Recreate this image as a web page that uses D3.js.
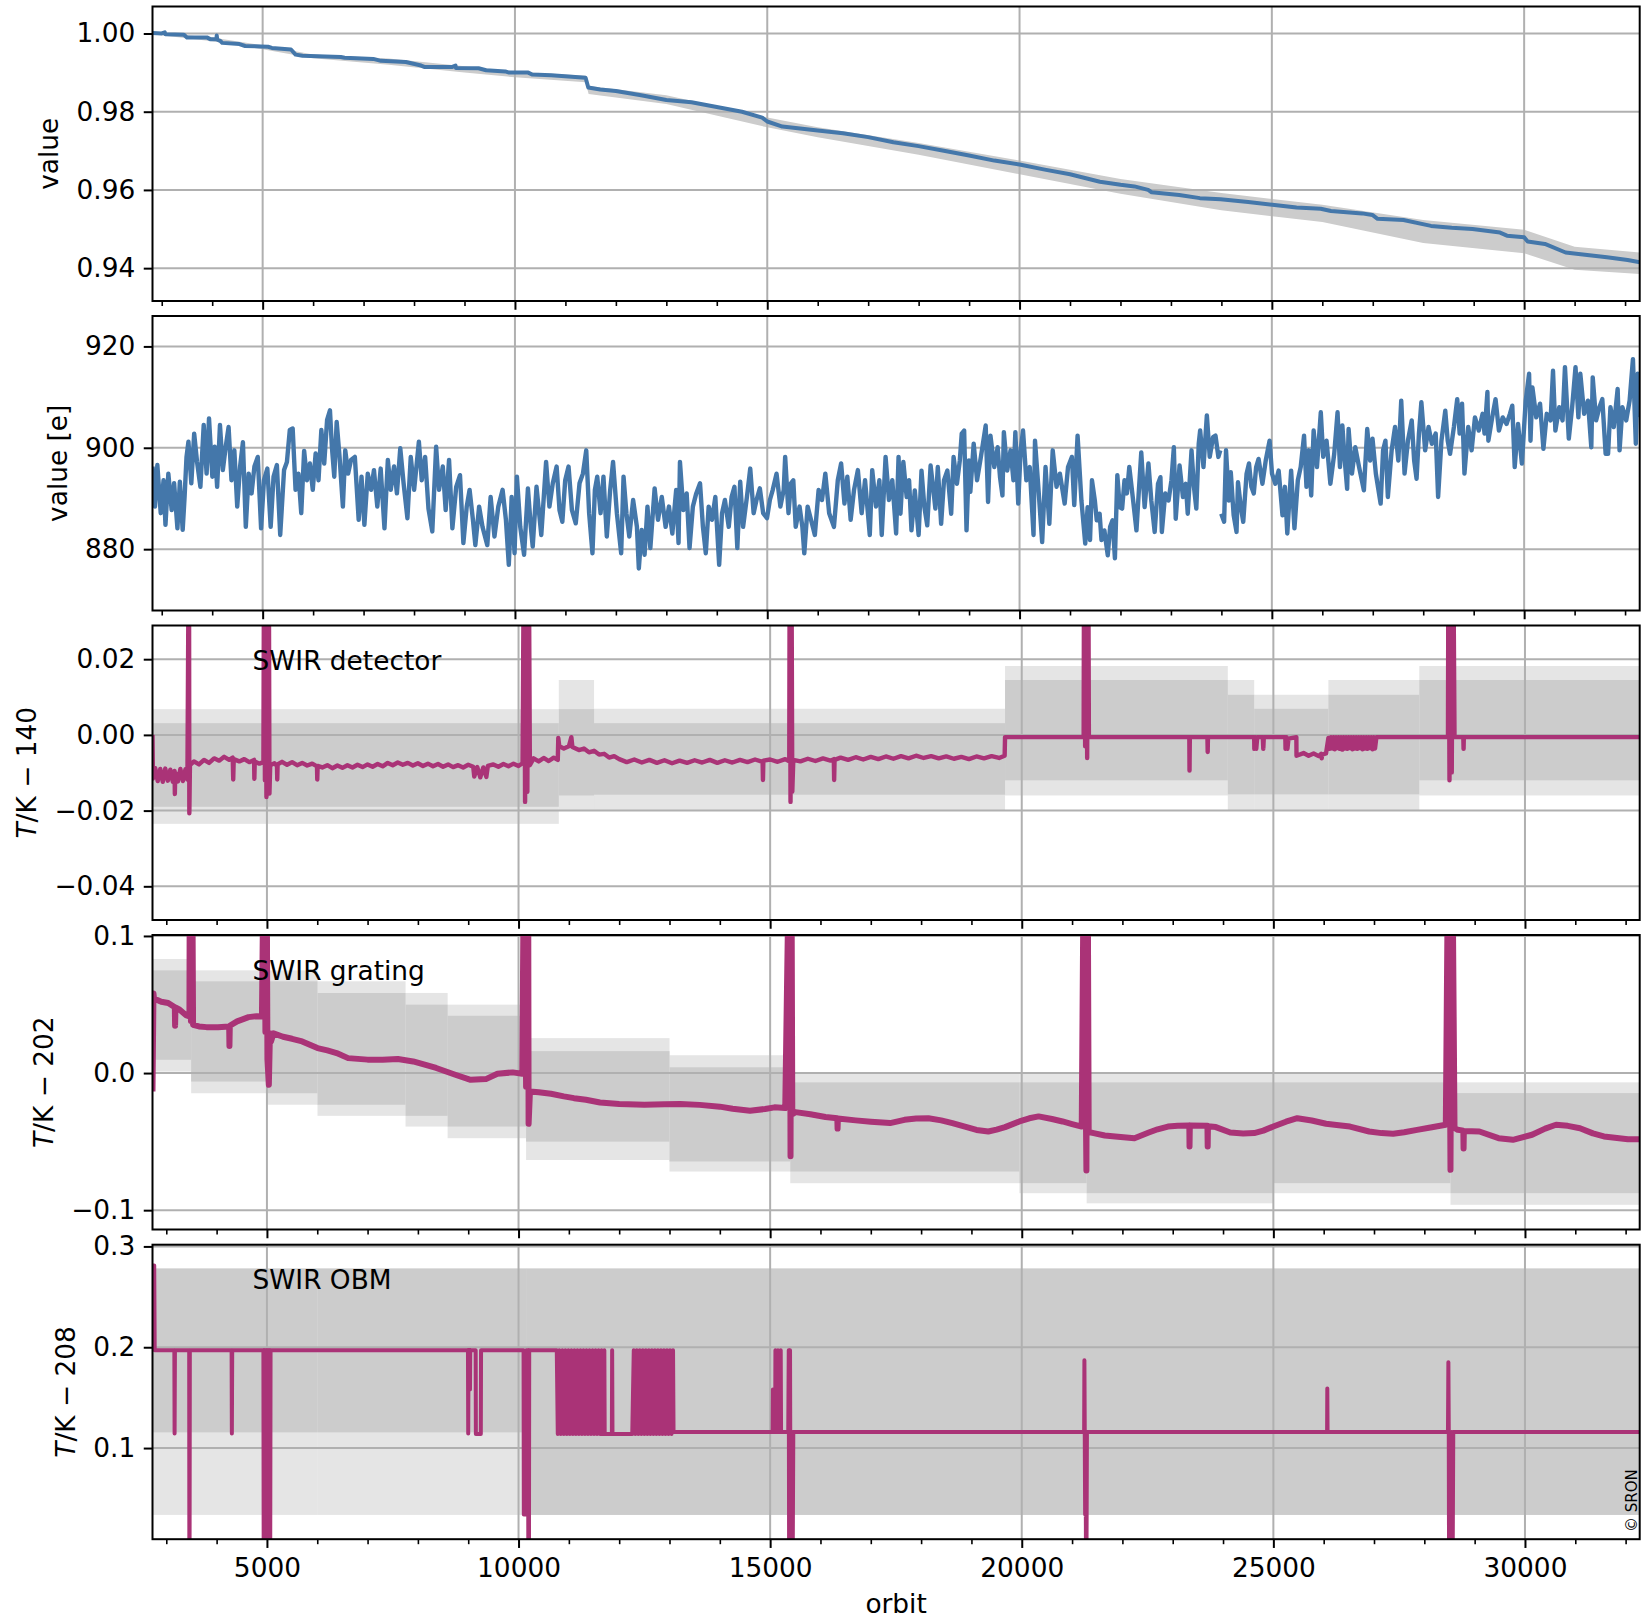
<!DOCTYPE html>
<html>
<head>
<meta charset="utf-8">
<script src="https://cdn.jsdelivr.net/npm/d3@7"></script>
<style>
  body { margin: 0; background: #fff; }
  svg { display: block; font-family: "DejaVu Sans", sans-serif; }
</style>
</head>
<body>
<svg id="chart" width="1641" height="1620"></svg>
<script>
// ---- data: orbit ranges per panel group
const orbitRangeTop = [2817, 32290];
const orbitRangeBottom = [2726, 32280];
const majorOrbits = [5000, 10000, 15000, 20000, 25000, 30000];
const minorOrbits = [3000, 4000, 6000, 7000, 8000, 9000, 11000, 12000, 13000, 14000, 16000, 17000,
  18000, 19000, 21000, 22000, 23000, 24000, 26000, 27000, 28000, 29000, 31000, 32000];

// ---- panel 1: relative value [orbit, value] and its spread [orbit, lo, hi]
const relValue = [
  [2818, 1.0001], [3000, 1.0000], [3060, 1.0003], [3070, 0.9998], [3440, 0.9997], [3500, 0.9990],
  [3894, 0.9990], [3970, 0.9985], [4084, 0.9985], [4090, 0.9995], [4100, 0.9984], [4160, 0.9981],
  [4198, 0.9976], [4539, 0.9973], [4653, 0.9968], [5107, 0.9966], [5183, 0.9963], [5562, 0.9959],
  [5653, 0.9946], [5790, 0.9943], [6548, 0.9940], [6624, 0.9938], [7192, 0.9935], [7344, 0.9930],
  [7837, 0.9927], [8140, 0.9918], [8216, 0.9914], [8747, 0.9914], [8822, 0.9918], [8830, 0.9912],
  [9278, 0.9911], [9429, 0.9906], [9808, 0.9903], [9884, 0.9900], [10263, 0.9900], [10339, 0.9895],
  [10718, 0.9893], [11400, 0.9887], [11453, 0.9862], [11689, 0.9857], [12000, 0.9853], [12500, 0.9842],
  [13000, 0.9830], [13500, 0.9824], [14000, 0.9812], [14500, 0.9800], [14900, 0.9785], [15000, 0.9775],
  [15300, 0.9762], [16000, 0.9752], [16500, 0.9745], [17000, 0.9735], [17500, 0.9722], [18000, 0.9712],
  [18500, 0.9700], [19000, 0.9688], [19500, 0.9675], [20000, 0.9665], [20500, 0.9652], [21000, 0.9640],
  [21592, 0.9621], [22002, 0.9613], [22276, 0.9609], [22549, 0.9600], [22617, 0.9594], [23164, 0.9587],
  [23574, 0.9579], [23985, 0.9576], [24531, 0.9569], [25010, 0.9562], [25489, 0.9555], [25967, 0.9552],
  [26172, 0.9546], [26787, 0.9540], [26992, 0.9536], [27095, 0.9526], [27608, 0.9523], [28154, 0.9508],
  [28565, 0.9503], [28975, 0.9500], [29522, 0.9491], [29659, 0.9483], [30000, 0.9479], [30069, 0.9468],
  [30411, 0.9462], [30821, 0.9440], [31163, 0.9435], [31641, 0.9428], [32051, 0.9421], [32297, 0.9415]
];
const relSpread = [
  [2818, 0.9998, 1.0003], [4000, 0.9980, 0.9990], [5000, 0.9960, 0.9970], [6000, 0.9937, 0.9946],
  [7500, 0.9920, 0.9936], [9000, 0.9900, 0.9916], [10000, 0.9888, 0.9903], [11400, 0.9875, 0.9892],
  [11460, 0.9845, 0.9866], [13000, 0.9820, 0.9842], [15000, 0.9760, 0.9785], [16000, 0.9735, 0.9760],
  [18000, 0.9690, 0.9720], [20000, 0.9640, 0.9675], [22000, 0.9590, 0.9628], [24000, 0.9548, 0.9592],
  [26000, 0.9518, 0.9562], [28000, 0.9464, 0.9523], [30000, 0.9438, 0.9498], [31000, 0.9396, 0.9455],
  [32290, 0.9385, 0.9440]
];

// ---- panel 2: value in electrons [orbit, value]
const electrons = [
  [2818, 896.3], [2866, 888.4], [2913, 896.6], [2980, 887.1], [3036, 893.6], [3074, 884.8], [3131, 894.9],
  [3197, 887.7], [3245, 893.0], [3311, 884.1], [3359, 893.3], [3415, 883.8], [3453, 890.3], [3491, 898.2],
  [3529, 901.2], [3586, 893.0], [3643, 902.8], [3700, 897.2], [3766, 892.3], [3832, 904.5], [3889, 894.9],
  [3937, 905.8], [4003, 894.3], [4050, 900.2], [4098, 892.3], [4154, 904.5], [4211, 895.6], [4268, 900.2],
  [4325, 904.1], [4382, 893.6], [4439, 899.5], [4496, 888.4], [4553, 896.3], [4609, 901.1], [4666, 884.4],
  [4723, 894.9], [4780, 891.0], [4837, 896.3], [4903, 898.2], [4969, 884.1], [5026, 893.6], [5093, 895.9],
  [5159, 884.4], [5216, 894.3], [5282, 896.6], [5348, 882.8], [5424, 895.6], [5481, 897.2], [5538, 903.5],
  [5595, 903.8], [5652, 891.7], [5709, 894.9], [5765, 887.1], [5822, 899.4], [5879, 893.6], [5936, 896.9],
  [5993, 891.7], [6050, 898.9], [6107, 893.6], [6163, 903.5], [6220, 896.9], [6277, 905.5], [6334, 907.4],
  [6372, 900.2], [6419, 894.3], [6467, 905.1], [6524, 898.2], [6590, 888.4], [6637, 899.5], [6694, 894.9],
  [6751, 897.6], [6827, 898.2], [6903, 885.8], [6959, 894.3], [7016, 884.8], [7083, 894.9], [7149, 891.7],
  [7206, 895.6], [7272, 888.4], [7339, 895.9], [7414, 884.1], [7481, 897.6], [7538, 891.7], [7604, 896.3],
  [7661, 891.0], [7727, 899.9], [7793, 893.0], [7869, 886.1], [7935, 898.2], [8002, 891.7], [8096, 901.2],
  [8153, 893.6], [8220, 898.2], [8286, 888.0], [8362, 883.5], [8438, 900.2], [8495, 891.7], [8570, 896.3],
  [8627, 887.7], [8694, 897.6], [8760, 884.1], [8836, 892.3], [8911, 894.6], [8978, 881.2], [9044, 888.4],
  [9101, 891.7], [9167, 885.8], [9215, 880.8], [9290, 888.4], [9357, 884.4], [9452, 880.8], [9518, 890.3],
  [9594, 882.5], [9670, 888.4], [9755, 891.7], [9821, 885.8], [9878, 876.9], [9935, 890.3], [9992, 879.2],
  [10039, 894.3], [10105, 884.4], [10181, 878.9], [10257, 892.0], [10314, 884.4], [10352, 880.5], [10427, 892.3],
  [10522, 882.8], [10617, 897.2], [10683, 888.4], [10750, 893.0], [10826, 896.3], [10883, 887.7], [10939, 885.4],
  [10996, 893.6], [11062, 896.3], [11129, 887.7], [11205, 885.1], [11280, 893.0], [11347, 894.9], [11413, 899.5],
  [11470, 887.1], [11536, 879.2], [11584, 891.7], [11631, 894.3], [11697, 887.1], [11754, 894.3], [11820, 882.5],
  [11887, 891.7], [11944, 897.2], [12020, 887.1], [12105, 879.2], [12152, 894.3], [12209, 887.1], [12266, 882.5],
  [12342, 889.7], [12417, 884.4], [12455, 876.2], [12512, 883.8], [12569, 878.9], [12626, 888.4], [12683, 880.2],
  [12768, 892.0], [12835, 885.8], [12910, 890.3], [12986, 884.4], [13052, 888.4], [13119, 883.1], [13195, 891.7],
  [13242, 881.2], [13270, 897.2], [13337, 887.7], [13403, 891.0], [13460, 880.2], [13526, 888.4], [13593, 891.0],
  [13668, 893.0], [13725, 884.4], [13782, 879.2], [13839, 888.4], [13905, 885.8], [13971, 890.3], [14047, 876.9],
  [14104, 887.1], [14161, 889.7], [14237, 884.4], [14294, 890.3], [14350, 892.3], [14407, 880.2], [14464, 893.3],
  [14521, 884.4], [14597, 890.3], [14663, 895.9], [14730, 887.1], [14787, 889.7], [14853, 892.0], [14919, 887.1],
  [14995, 886.1], [15052, 889.7], [15109, 891.7], [15184, 894.9], [15260, 888.4], [15326, 891.7], [15355, 898.2],
  [15421, 887.1], [15469, 893.0], [15516, 893.6], [15564, 884.4], [15640, 888.4], [15696, 884.4], [15734, 879.2],
  [15800, 888.4], [15867, 885.8], [15943, 882.8], [16018, 891.7], [16085, 889.7], [16151, 894.9], [16227, 887.1],
  [16322, 884.4], [16398, 893.6], [16464, 896.9], [16530, 889.0], [16587, 894.3], [16653, 885.8], [16720, 891.7],
  [16796, 895.6], [16871, 887.1], [16938, 893.6], [17032, 882.8], [17080, 895.6], [17155, 888.4], [17222, 893.6],
  [17269, 882.8], [17345, 898.2], [17412, 889.7], [17478, 893.6], [17554, 883.1], [17602, 898.2], [17640, 887.0],
  [17697, 897.2], [17763, 890.3], [17811, 893.6], [17858, 883.7], [17924, 891.6], [18000, 882.8], [18057, 895.5],
  [18114, 888.3], [18171, 884.7], [18237, 896.5], [18285, 892.3], [18332, 888.0], [18380, 896.2], [18446, 885.0],
  [18503, 893.6], [18570, 895.5], [18645, 887.0], [18693, 898.2], [18759, 892.9], [18816, 897.5], [18854, 902.8],
  [18902, 903.4], [18949, 883.7], [18997, 897.5], [19025, 891.3], [19091, 900.8], [19158, 893.6], [19234, 898.2],
  [19329, 904.4], [19376, 889.3], [19423, 902.4], [19499, 896.2], [19566, 900.1], [19613, 894.2], [19661, 890.6],
  [19689, 903.1], [19755, 895.5], [19822, 899.5], [19879, 893.6], [19917, 903.1], [19974, 889.0], [20021, 899.5],
  [20069, 903.4], [20135, 893.6], [20202, 896.2], [20277, 882.8], [20306, 901.4], [20372, 892.3], [20448, 881.4],
  [20515, 896.2], [20590, 885.0], [20657, 899.5], [20733, 892.3], [20799, 894.9], [20894, 889.0], [20961, 896.2],
  [21037, 898.2], [21084, 888.7], [21150, 902.4], [21226, 889.6], [21302, 881.1], [21349, 888.3], [21397, 881.8],
  [21435, 893.6], [21492, 889.6], [21530, 885.7], [21587, 887.0], [21624, 881.8], [21681, 883.7], [21748, 878.8],
  [21795, 884.4], [21843, 885.7], [21890, 878.2], [21938, 894.6], [21985, 888.3], [22033, 888.0], [22080, 893.6],
  [22128, 891.0], [22175, 896.2], [22251, 889.6], [22317, 883.7], [22365, 891.6], [22412, 899.1], [22479, 888.3],
  [22554, 896.9], [22611, 889.6], [22678, 883.4], [22744, 892.9], [22792, 894.2], [22820, 883.4], [22887, 891.0],
  [22953, 889.6], [23010, 893.6], [23058, 900.1], [23095, 886.0], [23171, 896.5], [23238, 890.3], [23295, 892.9],
  [23333, 887.0], [23408, 899.5], [23456, 892.3], [23503, 888.0], [23551, 900.8], [23579, 903.4], [23645, 896.2],
  [23712, 906.4], [23769, 898.2], [23835, 902.1], [23883, 902.4], [23940, 898.2], [23978, 899.5], [23988, NaN],
  [23997, 887.0], [24054, 885.4], [24092, 899.5], [24148, 889.6], [24186, 895.2], [24243, 886.7], [24300, 883.4],
  [24329, 893.2], [24385, 888.3], [24433, 885.4], [24499, 894.9], [24547, 896.9], [24594, 892.3], [24642, 891.0],
  [24689, 896.2], [24737, 897.8], [24813, 892.9], [24879, 897.5], [24955, 901.4], [25003, 894.9], [25069, 892.9],
  [25135, 895.5], [25211, 886.7], [25259, 892.3], [25306, 883.1], [25382, 895.5], [25448, 884.1], [25515, 893.6],
  [25572, 896.2], [25638, 902.4], [25686, 892.3], [25733, 899.5], [25780, 890.6], [25828, 903.4], [25894, 896.2],
  [25970, 907.0], [26018, 898.2], [26084, 901.4], [26160, 892.9], [26236, 898.8], [26302, 907.0], [26350, 896.2],
  [26397, 904.4], [26445, 897.5], [26492, 891.9], [26521, 903.7], [26587, 894.9], [26653, 900.1], [26729, 896.2],
  [26824, 891.6], [26890, 903.7], [26947, 897.5], [26995, 901.8], [27061, 894.9], [27156, 889.0], [27204, 899.5],
  [27251, 901.4], [27299, 890.3], [27374, 899.5], [27441, 904.1], [27507, 897.5], [27564, 909.3], [27630, 894.9],
  [27697, 901.4], [27772, 905.4], [27820, 897.5], [27868, 893.9], [27915, 902.8], [27963, 909.0], [28038, 899.5],
  [28105, 904.1], [28171, 900.8], [28247, 902.8], [28295, 890.3], [28361, 901.4], [28437, 907.3], [28485, 901.4],
  [28532, 898.8], [28608, 904.1], [28674, 909.6], [28722, 902.8], [28769, 908.7], [28817, 894.9], [28892, 904.1],
  [28959, 899.5], [29025, 906.0], [29101, 903.4], [29177, 906.7], [29215, 902.8], [29272, 911.0], [29291, 901.4],
  [29367, 906.0], [29433, 909.6], [29500, 903.4], [29575, 906.0], [29651, 904.7], [29718, 906.7], [29765, 908.3],
  [29813, 896.2], [29879, 904.7], [29955, 896.9], [30031, 909.3], [30098, 914.6], [30126, 901.4], [30164, 911.9],
  [30240, 906.0], [30315, 908.7], [30382, 899.8], [30448, 906.7], [30524, 905.4], [30572, 915.2], [30619, 903.4],
  [30695, 908.0], [30761, 905.4], [30809, 915.9], [30885, 901.8], [30951, 908.0], [31018, 915.9], [31075, 906.0],
  [31113, 914.6], [31189, 906.7], [31264, 909.3], [31331, 900.1], [31359, 913.9], [31426, 905.4], [31492, 908.0],
  [31549, 909.6], [31615, 898.8], [31663, 898.8], [31710, 908.0], [31777, 904.1], [31853, 911.6], [31891, 899.5],
  [31948, 908.0], [32023, 905.4], [32090, 909.3], [32156, 917.5], [32213, 900.8], [32251, 914.6], [32289, 906.0]
];

// ---- panel 3: SWIR detector temperature (T/K - 140) [orbit, value]
const detectorTemp = [
  [2726, 0.0000], [2735, -0.0115], [2780, -0.0088], [2830, -0.0122], [2880, -0.0090], [2930, -0.0124],
  [2980, -0.0089], [3030, -0.0121], [3080, -0.0092], [3130, -0.0124], [3165, -0.0095], [3170, -0.0156],
  [3178, -0.0100], [3230, -0.0123], [3280, -0.0090], [3330, -0.0122], [3380, -0.0091], [3420, -0.0118],
  [3450, 0.0600], [3458, -0.0207], [3470, -0.0080], [3550, -0.0070], [3650, -0.0078], [3750, -0.0066],
  [3850, -0.0074], [3950, -0.0062], [4050, -0.0068], [4150, -0.0058], [4250, -0.0066], [4320, -0.0060],
  [4330, -0.0118], [4340, -0.0064], [4450, -0.0070], [4550, -0.0064], [4650, -0.0072], [4745, -0.0066],
  [4750, -0.0116], [4758, -0.0070], [4850, -0.0076], [4930, -0.0072], [4945, 0.0600], [4960, -0.0120],
  [4975, 0.0600], [4990, -0.0164], [5005, 0.0600], [5020, -0.0140], [5035, 0.0600], [5050, -0.0155],
  [5065, -0.0080], [5150, -0.0075], [5200, -0.0082], [5205, -0.0118], [5212, -0.0078], [5300, -0.0071],
  [5400, -0.0079], [5500, -0.0072], [5600, -0.0080], [5700, -0.0074], [5800, -0.0081], [5900, -0.0076],
  [5995, -0.0083], [6000, -0.0118], [6008, -0.0082], [6100, -0.0086], [6200, -0.0080], [6300, -0.0088],
  [6400, -0.0081], [6500, -0.0087], [6600, -0.0080], [6700, -0.0086], [6800, -0.0079], [6900, -0.0085],
  [7000, -0.0078], [7100, -0.0084], [7200, -0.0077], [7300, -0.0083], [7400, -0.0074], [7500, -0.0080],
  [7600, -0.0073], [7700, -0.0079], [7800, -0.0074], [7900, -0.0081], [8000, -0.0075], [8100, -0.0082],
  [8200, -0.0076], [8300, -0.0083], [8400, -0.0077], [8500, -0.0084], [8600, -0.0078], [8700, -0.0085],
  [8800, -0.0080], [8900, -0.0086], [9000, -0.0079], [9100, -0.0084], [9120, -0.0110], [9180, -0.0085],
  [9240, -0.0112], [9300, -0.0086], [9360, -0.0111], [9390, -0.0082], [9500, -0.0078], [9600, -0.0084],
  [9700, -0.0077], [9800, -0.0083], [9900, -0.0076], [10000, -0.0082], [10080, -0.0075], [10110, 0.0600],
  [10130, -0.0177], [10150, 0.0600], [10175, -0.0150], [10200, 0.0600], [10225, -0.0080], [10300, -0.0062],
  [10400, -0.0070], [10500, -0.0061], [10600, -0.0069], [10700, -0.0060], [10780, -0.0066], [10790, -0.0008],
  [10810, -0.0030], [10900, -0.0036], [11000, -0.0030], [11050, -0.0006], [11070, -0.0032], [11200, -0.0040],
  [11300, -0.0036], [11400, -0.0046], [11500, -0.0042], [11600, -0.0052], [11700, -0.0050], [11800, -0.0060],
  [11900, -0.0056], [12000, -0.0064], [12150, -0.0072], [12300, -0.0065], [12450, -0.0073], [12600, -0.0066],
  [12750, -0.0074], [12900, -0.0067], [13050, -0.0075], [13200, -0.0068], [13350, -0.0074], [13500, -0.0067],
  [13650, -0.0073], [13800, -0.0066], [13950, -0.0074], [14100, -0.0067], [14250, -0.0073], [14400, -0.0066],
  [14550, -0.0072], [14700, -0.0065], [14850, -0.0071], [14857, -0.0119], [14865, -0.0068], [15000, -0.0065],
  [15150, -0.0071], [15300, -0.0064], [15380, -0.0070], [15390, 0.0600], [15405, -0.0177], [15420, 0.0600],
  [15440, -0.0150], [15460, -0.0066], [15600, -0.0070], [15750, -0.0063], [15900, -0.0069], [16050, -0.0062],
  [16200, -0.0068], [16265, -0.0064], [16272, -0.0119], [16280, -0.0066], [16400, -0.0060], [16550, -0.0066],
  [16700, -0.0059], [16850, -0.0065], [17000, -0.0058], [17150, -0.0064], [17300, -0.0057], [17450, -0.0063],
  [17600, -0.0056], [17750, -0.0062], [17900, -0.0055], [18050, -0.0061], [18200, -0.0056], [18350, -0.0062],
  [18500, -0.0057], [18650, -0.0063], [18800, -0.0058], [18950, -0.0064], [19100, -0.0057], [19250, -0.0062],
  [19400, -0.0056], [19550, -0.0061], [19660, -0.0055], [19668, -0.0006], [21230, -0.0006], [21240, 0.0600],
  [21260, -0.0030], [21280, 0.0600], [21300, -0.0061], [21320, 0.0600], [21334, -0.0006], [23330, -0.0006],
  [23334, -0.0094], [23340, -0.0006], [23690, -0.0006], [23695, -0.0045], [23700, -0.0006], [24619, -0.0006],
  [24622, -0.0037], [24640, -0.0006], [24660, -0.0037], [24680, -0.0006], [24790, -0.0006], [24800, -0.0037],
  [24810, -0.0006], [25238, -0.0006], [25242, -0.0037], [25260, -0.0006], [25280, -0.0037], [25300, -0.0010],
  [25457, -0.0006], [25460, -0.0055], [25600, -0.0048], [25700, -0.0055], [25800, -0.0049], [25900, -0.0056],
  [25950, -0.0050], [25960, -0.0062], [25970, -0.0052], [26047, -0.0049], [26094, -0.0008], [26120, -0.0037],
  [26145, -0.0006], [26170, -0.0036], [26195, -0.0006], [26220, -0.0038], [26245, -0.0006], [26270, -0.0035],
  [26295, -0.0006], [26320, -0.0037], [26345, -0.0006], [26370, -0.0039], [26395, -0.0006], [26420, -0.0036],
  [26445, -0.0006], [26470, -0.0037], [26495, -0.0006], [26520, -0.0035], [26545, -0.0006], [26570, -0.0038],
  [26595, -0.0006], [26620, -0.0036], [26645, -0.0006], [26670, -0.0037], [26695, -0.0006], [26720, -0.0035],
  [26745, -0.0006], [26770, -0.0038], [26795, -0.0006], [26820, -0.0036], [26845, -0.0006], [26870, -0.0037],
  [26895, -0.0006], [26920, -0.0035], [26945, -0.0006], [26970, -0.0038], [26995, -0.0006], [27020, -0.0036],
  [27047, -0.0006], [28470, -0.0006], [28480, 0.0600], [28500, -0.0120], [28520, 0.0600], [28545, -0.0099],
  [28570, 0.0600], [28600, -0.0006], [28775, -0.0006], [28780, -0.0037], [28785, -0.0006], [32280, -0.0006]
];
// spread rows: [orbit start, orbit end, outer lo, lo, hi, outer hi]
const detectorSpread = [
  [2726, 10800, -0.0235, -0.0190, 0.0031, 0.0068],
  [10800, 11500, -0.0200, -0.0160, 0.0068, 0.0145],
  [11500, 19668, -0.0200, -0.0158, 0.0031, 0.0069],
  [19668, 24095, -0.0160, -0.0120, 0.0145, 0.0182],
  [24095, 24619, -0.0200, -0.0157, 0.0106, 0.0145],
  [24619, 26094, -0.0200, -0.0157, 0.0069, 0.0106],
  [26094, 27900, -0.0200, -0.0157, 0.0106, 0.0145],
  [27900, 32290, -0.0160, -0.0120, 0.0145, 0.0182]
];

// ---- panel 4: SWIR grating temperature (T/K - 202)
const gratingTemp = [
  [2726, -0.0134], [2745, 0.0580], [2760, 0.0530], [2809, 0.0535], [2900, 0.0520], [3038, 0.0511],
  [3170, 0.0480], [3175, 0.0346], [3182, 0.0478], [3266, 0.0462], [3400, 0.0420], [3460, 0.0413],
  [3470, 0.2000], [3490, 0.0380], [3510, 0.2000], [3532, 0.0352], [3650, 0.0340], [3798, 0.0335],
  [4027, 0.0335], [4250, 0.0340], [4255, 0.0198], [4262, 0.0345], [4407, 0.0377], [4635, 0.0408],
  [4800, 0.0415], [4901, 0.0413], [4945, 0.2000], [4970, 0.0300], [4990, 0.2000], [5010, 0.0100],
  [5038, -0.0085], [5060, 0.0290], [5080, 0.0230], [5130, 0.0290], [5320, 0.0265], [5500, 0.0250],
  [5700, 0.0231], [6005, 0.0182], [6200, 0.0165], [6385, 0.0146], [6613, 0.0109], [7000, 0.0098],
  [7298, 0.0097], [7602, 0.0102], [7906, 0.0085], [8100, 0.0065], [8363, 0.0037], [8743, -0.0012],
  [9048, -0.0049], [9352, -0.0044], [9580, -0.0005], [9884, 0.0005], [10075, -0.0005], [10113, 0.2000],
  [10150, -0.0100], [10189, 0.2000], [10200, -0.0370], [10227, -0.0134], [10400, -0.0140], [10645, -0.0151],
  [10900, -0.0170], [11102, -0.0183], [11340, -0.0195], [11619, -0.0215], [12000, -0.0225], [12174, -0.0228],
  [12500, -0.0232], [12900, -0.0228], [13214, -0.0225], [13600, -0.0232], [14000, -0.0245], [14254, -0.0260],
  [14600, -0.0275], [14900, -0.0262], [15086, -0.0250], [15300, -0.0255], [15390, 0.2000], [15405, -0.0607],
  [15420, 0.2000], [15440, -0.0300], [15503, -0.0285], [15800, -0.0300], [16100, -0.0320], [16335, -0.0330],
  [16340, -0.0405], [16346, -0.0332], [16700, -0.0345], [17000, -0.0355], [17383, -0.0365], [17669, -0.0341],
  [17900, -0.0332], [18145, -0.0329], [18400, -0.0345], [18621, -0.0365], [18906, -0.0394], [19100, -0.0415],
  [19335, -0.0426], [19500, -0.0412], [19668, -0.0394], [19954, -0.0353], [20150, -0.0330], [20335, -0.0316],
  [20600, -0.0335], [20811, -0.0353], [21000, -0.0372], [21192, -0.0390], [21239, 0.2000], [21265, 0.0095],
  [21285, -0.0710], [21306, 0.2000], [21330, -0.0430], [21429, -0.0438], [21650, -0.0455], [21858, -0.0462],
  [22239, -0.0475], [22524, -0.0434], [22700, -0.0410], [22905, -0.0390], [23100, -0.0385], [23330, -0.0382],
  [23334, -0.0536], [23340, -0.0383], [23690, -0.0385], [23695, -0.0536], [23700, -0.0388], [23857, -0.0394],
  [24143, -0.0434], [24400, -0.0440], [24619, -0.0438], [24800, -0.0420], [24999, -0.0390], [25250, -0.0355],
  [25476, -0.0329], [25762, -0.0346], [26047, -0.0370], [26300, -0.0380], [26523, -0.0390], [26904, -0.0426],
  [27150, -0.0438], [27380, -0.0443], [27600, -0.0432], [27856, -0.0414], [28150, -0.0395], [28427, -0.0377],
  [28480, 0.2000], [28520, -0.0706], [28550, 0.2000], [28600, -0.0400], [28665, -0.0414], [28775, -0.0420],
  [28780, -0.0550], [28785, -0.0422], [29094, -0.0426], [29475, -0.0475], [29760, -0.0487], [30141, -0.0450],
  [30400, -0.0405], [30617, -0.0377], [30850, -0.0385], [31093, -0.0402], [31350, -0.0440], [31569, -0.0462],
  [32045, -0.0482], [32293, -0.0482]
];
const gratingSpread = [
  [2726, 3494, 0.0011, 0.0097, 0.0749, 0.0832],
  [3494, 4993, -0.0147, -0.0062, 0.0669, 0.0749],
  [4993, 6005, -0.0231, -0.0147, 0.0669, 0.0749],
  [6005, 7755, -0.0312, -0.0231, 0.0584, 0.0669],
  [7755, 8591, -0.0390, -0.0312, 0.0499, 0.0584],
  [8591, 10150, -0.0475, -0.0390, 0.0418, 0.0499],
  [10150, 13000, -0.0634, -0.0500, 0.0160, 0.0255],
  [13000, 15400, -0.0718, -0.0645, 0.0042, 0.0130],
  [15400, 19954, -0.0803, -0.0718, -0.0068, -0.0004],
  [19954, 21290, -0.0876, -0.0803, -0.0068, -0.0004],
  [21290, 25000, -0.0950, -0.0876, -0.0068, -0.0004],
  [25000, 28520, -0.0876, -0.0803, -0.0068, -0.0004],
  [28520, 32290, -0.0961, -0.0876, -0.0146, -0.0068]
];

// ---- panel 5: SWIR OBM temperature (T/K - 208)
const obmTemp = [
  [2726, 0.197], [2740, 0.281], [2760, 0.281], [2770, 0.197], [3160, 0.197], [3165, 0.1145], [3172, 0.197],
  [3455, 0.197], [3460, -0.1], [3468, 0.197], [4298, 0.197], [4303, 0.1145], [4310, 0.197],
  [4930, 0.197], [4938, -0.1], [4950, 0.197], [4962, -0.1], [4975, 0.197], [4988, -0.1], [5000, 0.197],
  [5012, -0.1], [5025, 0.197], [5038, -0.1], [5050, 0.197], [5062, -0.1], [5072, 0.197],
  [8995, 0.197], [9000, 0.1145], [9006, 0.197], [9030, 0.197], [9035, 0.158], [9040, 0.197],
  [9148, 0.197], [9152, 0.114], [9250, 0.114], [9255, 0.197], [10100, 0.197], [10105, 0.034],
  [10150, 0.034], [10155, 0.197], [10190, 0.197], [10196, -0.1], [10205, -0.1], [10212, 0.197],
  [10760, 0.197], [10780, 0.114], [10810, 0.197], [10840, 0.114], [10870, 0.197], [10900, 0.114],
  [10930, 0.197], [10960, 0.114], [10990, 0.197], [11020, 0.114], [11050, 0.197], [11080, 0.114],
  [11110, 0.197], [11140, 0.114], [11170, 0.197], [11200, 0.114], [11230, 0.197], [11260, 0.114],
  [11290, 0.197], [11320, 0.114], [11350, 0.197], [11380, 0.114], [11410, 0.197], [11440, 0.114],
  [11470, 0.197], [11500, 0.114], [11530, 0.197], [11560, 0.114], [11590, 0.197], [11620, 0.114],
  [11650, 0.197], [11660, 0.114], [11700, 0.114], [11705, 0.197], [11712, 0.114], [11855, 0.114],
  [11860, 0.197], [11867, 0.114], [12260, 0.114], [12290, 0.197], [12320, 0.114], [12350, 0.197],
  [12380, 0.114], [12410, 0.197], [12440, 0.114], [12470, 0.197], [12500, 0.114], [12530, 0.197],
  [12560, 0.114], [12590, 0.197], [12620, 0.114], [12650, 0.197], [12680, 0.114], [12710, 0.197],
  [12740, 0.114], [12770, 0.197], [12800, 0.114], [12830, 0.197], [12860, 0.114], [12890, 0.197],
  [12920, 0.114], [12950, 0.197], [12980, 0.114], [13010, 0.197], [13040, 0.114], [13070, 0.197],
  [13080, 0.116], [15050, 0.116], [15055, 0.158], [15060, 0.116], [15100, 0.116], [15105, 0.197],
  [15112, 0.116], [15150, 0.116], [15155, 0.197], [15162, 0.116], [15205, 0.116], [15210, 0.197],
  [15217, 0.116], [15360, 0.116], [15370, 0.197], [15380, -0.1], [15395, 0.197], [15410, -0.1],
  [15425, 0.116], [15440, -0.1], [15460, 0.116], [21240, 0.116], [21245, 0.187], [21252, 0.116],
  [21260, 0.034], [21270, 0.116], [21280, -0.1], [21295, 0.116], [26068, 0.116], [26072, 0.159],
  [26077, 0.116], [28470, 0.116], [28478, 0.185], [28486, 0.116], [28495, -0.1], [28510, 0.116],
  [28525, 0.034], [28540, 0.116], [28555, -0.1], [28575, 0.116], [32280, 0.116]
];
const obmSpread = [
  [2726, 6000, 0.0337, 0.1156, 0.2781, 0.2781],
  [6000, 10150, 0.0337, 0.1156, 0.2781, 0.2781],
  [10150, 32290, 0.0337, 0.0337, 0.2781, 0.2781]
];

// ---- layout and styles
const LEFT = 152.5;
const RIGHT = 1639.7;
const PANEL_H = 294.5;
const FONT = 26.4;
const BLUE = "#4477aa";
const PURPLE = "#aa3377";
const BAND = "#cccccc";
const GRID = "#b0b0b0";

const panels = [
  { top: 6.5, orbits: orbitRangeTop, yDomain: [0.9316, 1.0069], yTicks: [0.94, 0.96, 0.98, 1.0],
    fmt: ".2f", label: ["value"], line: relValue, color: BLUE, area: relSpread, width: 4 },
  { top: 316, orbits: orbitRangeTop, yDomain: [867.9, 926.0], yTicks: [880, 900, 920],
    fmt: "d", label: ["value [e]"], line: electrons, color: BLUE, width: 4.4 },
  { top: 625.5, orbits: orbitRangeBottom, yDomain: [-0.0489, 0.0289], yTicks: [-0.04, -0.02, 0.0, 0.02],
    fmt: ".2f", label: ["T", "/K \u2212 140"], line: detectorTemp, color: PURPLE, spread: detectorSpread,
    note: "SWIR detector", width: 4.4 },
  { top: 935, orbits: orbitRangeBottom, yDomain: [-0.1141, 0.1007], yTicks: [-0.1, 0.0, 0.1],
    fmt: ".1f", label: ["T", "/K \u2212 202"], line: gratingTemp, color: PURPLE, spread: gratingSpread,
    note: "SWIR grating", width: 6 },
  { top: 1244.7, orbits: orbitRangeBottom, yDomain: [0.0096, 0.3017], yTicks: [0.1, 0.2, 0.3],
    fmt: ".1f", label: ["T", "/K \u2212 208"], line: obmTemp, color: PURPLE, spread: obmSpread,
    note: "SWIR OBM", width: 4, last: true }
];

const svg = d3.select("#chart");

// Draw one panel
const drawPanel = (p, i) => {
  const x = d3.scaleLinear().domain(p.orbits).range([LEFT, RIGHT]);
  const y = d3.scaleLinear().domain(p.yDomain).range([p.top + PANEL_H, p.top]);
  const g = svg.append("g");

  // clip to the axes box
  const clipId = `clip-${i}`;
  svg.append("clipPath").attr("id", clipId)
    .append("rect")
    .attr("x", LEFT).attr("y", p.top)
    .attr("width", RIGHT - LEFT).attr("height", PANEL_H);
  const data = g.append("g").attr("clip-path", `url(#${clipId})`);

  // spread band (min/max) behind everything
  if (p.area) {
    const area = d3.area()
      .x((d) => x(d[0]))
      .y0((d) => y(d[1]))
      .y1((d) => y(d[2]));
    data.append("path").datum(p.area)
      .attr("d", area).attr("fill", BAND);
  }
  if (p.spread) {
    data.selectAll(".outer").data(p.spread).join("rect")
      .attr("x", (d) => x(d[0])).attr("width", (d) => x(d[1]) - x(d[0]))
      .attr("y", (d) => y(d[5])).attr("height", (d) => y(d[2]) - y(d[5]))
      .attr("fill", BAND).attr("opacity", 0.5);
    data.selectAll(".core").data(p.spread).join("rect")
      .attr("x", (d) => x(d[0])).attr("width", (d) => x(d[1]) - x(d[0]))
      .attr("y", (d) => y(d[4])).attr("height", (d) => y(d[3]) - y(d[4]))
      .attr("fill", BAND);
  }

  // grid
  data.selectAll(".vgrid").data(majorOrbits).join("line")
    .attr("x1", (d) => x(d)).attr("x2", (d) => x(d))
    .attr("y1", p.top).attr("y2", p.top + PANEL_H)
    .attr("stroke", GRID).attr("stroke-width", 2);
  data.selectAll(".hgrid").data(p.yTicks).join("line")
    .attr("x1", LEFT).attr("x2", RIGHT)
    .attr("y1", (d) => y(d)).attr("y2", (d) => y(d))
    .attr("stroke", GRID).attr("stroke-width", 2);

  // series line
  const line = d3.line()
    .defined((d) => !isNaN(d[1]))
    .x((d) => x(d[0]))
    .y((d) => y(d[1]));
  data.append("path").datum(p.line)
    .attr("d", line)
    .attr("fill", "none")
    .attr("stroke", p.color)
    .attr("stroke-width", p.width)
    .attr("stroke-linejoin", "round");

  // panel note
  if (p.note) {
    g.append("text")
      .attr("x", LEFT + 100).attr("y", p.top + 44.5)
      .attr("font-size", FONT).text(p.note);
  }

  // spines
  g.append("rect")
    .attr("x", LEFT).attr("y", p.top)
    .attr("width", RIGHT - LEFT).attr("height", PANEL_H)
    .attr("fill", "none").attr("stroke", "#000").attr("stroke-width", 2);

  // y axis
  const yAxis = g.append("g")
    .attr("transform", `translate(${LEFT},0)`)
    .call(d3.axisLeft(y).tickValues(p.yTicks).tickSize(8.75).tickPadding(8.5)
      .tickFormat(d3.format(p.fmt)));
  yAxis.select(".domain").remove();
  yAxis.selectAll("line").attr("stroke-width", 2);
  yAxis.selectAll("text").attr("font-size", FONT).attr("font-family", "DejaVu Sans").attr("fill", "#000");

  // x axis: major and minor ticks
  const xAxis = g.append("g")
    .attr("transform", `translate(0,${p.top + PANEL_H})`)
    .call(d3.axisBottom(x).tickValues(majorOrbits).tickSize(8.75).tickPadding(10.5)
      .tickFormat(p.last ? d3.format("d") : () => ""));
  xAxis.select(".domain").remove();
  xAxis.selectAll("line").attr("stroke-width", 2);
  xAxis.selectAll("text").attr("font-size", FONT).attr("font-family", "DejaVu Sans").attr("fill", "#000");
  const xMinor = g.append("g")
    .attr("transform", `translate(0,${p.top + PANEL_H})`)
    .call(d3.axisBottom(x).tickValues(minorOrbits).tickSize(5).tickFormat(() => ""));
  xMinor.select(".domain").remove();
  xMinor.selectAll("line").attr("stroke-width", 1.6);

  // y label placed left of the tick labels
  const bb = yAxis.node().getBBox();
  const labelX = LEFT + bb.x - (p.label.length > 1 ? 18 : 18);
  const label = g.append("text")
    .attr("transform", `translate(${labelX},${p.top + PANEL_H / 2}) rotate(-90)`)
    .attr("text-anchor", "middle")
    .attr("font-size", FONT);
  if (p.label.length > 1) {
    label.append("tspan").attr("font-style", "italic").text(p.label[0]);
    label.append("tspan").text(p.label[1]);
  } else {
    label.text(p.label[0]);
  }

  if (p.last) {
    g.append("text")
      .attr("x", (LEFT + RIGHT) / 2).attr("y", 1613)
      .attr("text-anchor", "middle").attr("font-size", FONT)
      .text("orbit");
    g.append("text")
      .attr("transform", `translate(1637,1532) rotate(-90)`)
      .attr("font-size", 15)
      .text("\u00a9 SRON");
  }
};

panels.forEach(drawPanel);
</script>
</body>
</html>
